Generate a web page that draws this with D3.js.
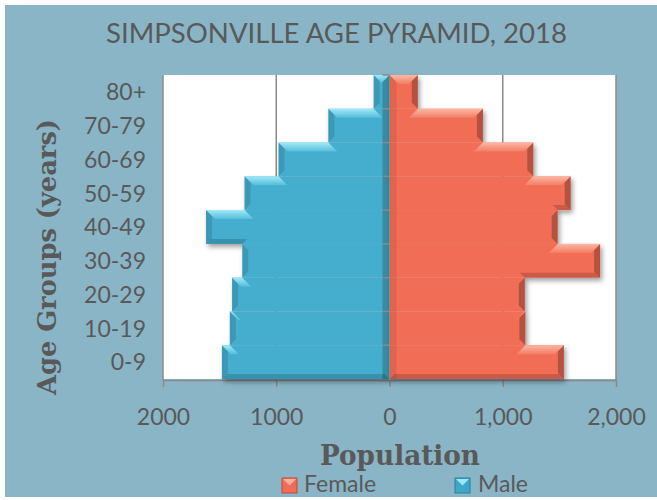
<!DOCTYPE html>
<html>
<head>
<meta charset="utf-8">
<script src="https://cdn.jsdelivr.net/npm/d3@7"></script>
<style>
  html, body { margin: 0; padding: 0; background: #ffffff; }
  svg { display: block; }
</style>
</head>
<body>
<svg id="chart" width="657" height="500"></svg>
<script>
// ---- Data ----
const ageGroups = ["0-9", "10-19", "20-29", "30-39", "40-49", "50-59", "60-69", "70-79", "80+"];
const maleValues = [1480, 1410, 1390, 1300, 1620, 1280, 980, 540, 140];
const femaleValues = [1540, 1200, 1195, 1860, 1485, 1600, 1270, 825, 250];
const xTickValues = [-2000, -1000, 0, 1000, 2000];
const xTickLabels = ["2000", "1000", "0", "1,000", "2,000"];
const seriesNames = ["Female", "Male"];
const titleText = "SIMPSONVILLE AGE PYRAMID, 2018";

// ---- Layout ----
const svg = d3.select("#chart");
const textColor = "#595959";
const gridColor = "#8a8a8a";
const plot = { left: 163, right: 616, top: 75, bottom: 379 };

svg.append("rect").attr("x", 5).attr("y", 5).attr("width", 652).attr("height", 492).attr("fill", "#8ab5c7");

const defs = svg.append("defs");
const shadow = defs.append("filter").attr("id", "shadow").attr("x", "-10%").attr("y", "-10%").attr("width", "130%").attr("height", "130%");
shadow.append("feDropShadow").attr("dx", 2).attr("dy", 3).attr("stdDeviation", 2.5)
  .attr("flood-color", "#000").attr("flood-opacity", 0.38);

function vGrad(id, c1, c2) {
  const g = defs.append("linearGradient").attr("id", id).attr("x1", 0).attr("y1", 0).attr("x2", 0).attr("y2", 1);
  g.append("stop").attr("offset", "0%").attr("stop-color", c1);
  g.append("stop").attr("offset", "100%").attr("stop-color", c2);
}
vGrad("maleHi", "#a6ecfa", "#55bddc");
vGrad("femaleHi", "#fbbcaa", "#f47d64");

const x = d3.scaleLinear().domain([-2000, 2000]).range([plot.left, plot.right]);
const y = d3.scaleBand().domain(ageGroups).range([plot.bottom, plot.top]).paddingInner(0).paddingOuter(0);
const x0 = x(0);
const bw = y.bandwidth();

// plot area
svg.append("rect").attr("x", plot.left).attr("y", plot.top)
  .attr("width", plot.right - plot.left).attr("height", plot.bottom - plot.top).attr("fill", "#ffffff");

// gridlines
svg.append("g").selectAll("line").data(xTickValues.filter(d => d !== 0)).join("line")
  .attr("x1", d => x(d)).attr("x2", d => x(d))
  .attr("y1", plot.top).attr("y2", plot.bottom + 1)
  .attr("stroke", gridColor).attr("stroke-width", 1.5);

// x axis
const xAxis = svg.append("g").attr("transform", `translate(0,${plot.bottom + 1})`)
  .call(d3.axisBottom(x).tickValues(xTickValues).tickFormat((d, i) => xTickLabels[i]).tickSize(7).tickSizeOuter(0));
xAxis.select(".domain").attr("stroke", gridColor).attr("stroke-width", 1.5);
xAxis.selectAll(".tick line").attr("stroke", gridColor).attr("stroke-width", 1.5);
xAxis.selectAll(".tick text").attr("y", 45).attr("dy", 0)
  .attr("fill", textColor).attr("font-family", "Lato, 'Open Sans', sans-serif").attr("font-size", 23);

// ---- Bars ----
const sides = [
  { name: "Male", values: maleValues, s: -1, fill: "#45aecf", hi: "url(#maleHi)", outerDark: 0.12, innerDark: 0.2 },
  { name: "Female", values: femaleValues, s: 1, fill: "#f26d55", hi: "url(#femaleHi)", outerDark: 0.25, innerDark: 0.08 }
];
const b = 9, bb = 5, sb = 6;
const n = ageGroups.length;

sides.forEach(side => {
  const s = side.s;
  const X = p => x0 + s * p;
  const px = v => Math.abs(x(s * v) - x0);
  const g = svg.append("g").attr("filter", "url(#shadow)");
  const bars = ageGroups.map((cat, i) => ({
    cat, i,
    v: side.values[i],
    vA: i < n - 1 ? side.values[i + 1] : 0,
    vB: i > 0 ? side.values[i - 1] : 0
  }));
  g.selectAll("rect.bar").data(bars).join("rect").attr("class", "bar")
    .attr("x", d => Math.min(x(s * d.v), x0))
    .attr("width", d => Math.abs(x(s * d.v) - x0))
    .attr("y", d => y(d.cat)).attr("height", bw)
    .attr("fill", side.fill);

  const deco = svg.append("g");
  bars.forEach(d => {
    const top = y(d.cat), bot = top + bw;
    const p1 = px(d.v);
    // outer side shading
    deco.append("polygon").attr("points", [
      [X(p1), top], [X(p1), bot], [X(p1 - sb), bot - sb], [X(p1 - sb), top + sb]
    ].map(p => p.join(",")).join(" ")).attr("fill", "#000").attr("opacity", side.outerDark);
    // inner side shading
    deco.append("rect").attr("x", Math.min(X(0), X(7))).attr("width", 7)
      .attr("y", top).attr("height", bw).attr("fill", "#000").attr("opacity", side.innerDark);
    // bottom shading
    if (d.i === 0 || d.v > d.vB) {
      const pB = d.i === 0 ? 0 : px(d.vB);
      const pBi = d.i === 0 ? bb : Math.max(pB - bb, 0);
      deco.append("polygon").attr("points", [
        [X(pB), bot], [X(p1), bot], [X(Math.max(p1 - bb, pBi)), bot - bb], [X(pBi), bot - bb]
      ].map(p => p.join(",")).join(" ")).attr("fill", "#000").attr("opacity", 0.16);
    }
    // top highlight
    if (d.i === n - 1 || d.v > d.vA) {
      let pts;
      if (d.i === n - 1) {
        if (p1 >= 2 * b) pts = [[X(0), top], [X(p1), top], [X(p1 - b), top + b], [X(b), top + b]];
        else pts = [[X(0), top], [X(p1), top], [X(p1 / 2), top + p1 / 2]];
      } else {
        const pA = px(d.vA);
        pts = [[X(pA), top], [X(p1), top], [X(Math.max(p1 - b, 0)), top + b], [X(Math.max(pA - b, 0)), top + b]];
      }
      deco.append("polygon").attr("points", pts.map(p => p.join(",")).join(" "))
        .attr("fill", side.hi).attr("opacity", 0.95);
    }
  });
});

// zero axis with ticks between categories
svg.append("line").attr("x1", x0).attr("x2", x0).attr("y1", plot.top).attr("y2", plot.bottom + 1)
  .attr("stroke", gridColor).attr("stroke-width", 1);
svg.append("g").selectAll("line").data(ageGroups).join("line")
  .attr("x1", x0 - 7).attr("x2", x0)
  .attr("y1", d => y(d)).attr("y2", d => y(d))
  .attr("stroke", gridColor).attr("stroke-width", 1.5);

// y labels
svg.append("g").selectAll("text").data(ageGroups).join("text")
  .attr("x", 146).attr("y", d => y(d) + bw / 2).attr("dy", "0.36em")
  .attr("text-anchor", "end").attr("fill", textColor)
  .attr("font-family", "Lato, 'Open Sans', sans-serif").attr("font-size", 23)
  .text(d => d);

// titles
svg.append("text").attr("x", 336.5).attr("y", 43).attr("text-anchor", "middle")
  .attr("fill", textColor).attr("font-family", "Lato, 'Open Sans', sans-serif").attr("font-size", 27)
  .attr("textLength", 461).attr("lengthAdjust", "spacingAndGlyphs").text(titleText);

svg.append("text").attr("transform", "translate(56,257) rotate(-90)").attr("text-anchor", "middle")
  .attr("fill", textColor).attr("font-family", "'DejaVu Serif', serif").attr("font-weight", "bold").attr("font-size", 26)
  .attr("textLength", 276).attr("lengthAdjust", "spacingAndGlyphs").text("Age Groups (years)");

svg.append("text").attr("x", 400).attr("y", 465).attr("text-anchor", "middle")
  .attr("fill", textColor).attr("font-family", "'DejaVu Serif', serif").attr("font-weight", "bold").attr("font-size", 28)
  .attr("textLength", 160).attr("lengthAdjust", "spacingAndGlyphs").text("Population");

// legend
const legendItems = [
  { name: seriesNames[0], fill: "#f26d55", hi: "#fbb09c", edge: "#b94f3c", mx: 282, tx: 304 },
  { name: seriesNames[1], fill: "#3ea6c8", hi: "#9be6f7", edge: "#2d7f99", mx: 455, tx: 478 }
];
const lg = svg.append("g");
legendItems.forEach(it => {
  const my = 478, ms = 15;
  lg.append("rect").attr("x", it.mx).attr("y", my).attr("width", ms).attr("height", ms)
    .attr("fill", it.fill).attr("stroke", it.edge).attr("stroke-width", 1);
  lg.append("polygon").attr("points", [[it.mx + 1, my + 1], [it.mx + ms - 1, my + 1], [it.mx + ms / 2, my + ms / 2]].map(p => p.join(",")).join(" "))
    .attr("fill", it.hi);
  lg.append("text").attr("x", it.tx).attr("y", 492).attr("fill", textColor)
    .attr("font-family", "Lato, 'Open Sans', sans-serif").attr("font-size", 23).text(it.name);
});
</script>
</body>
</html>
